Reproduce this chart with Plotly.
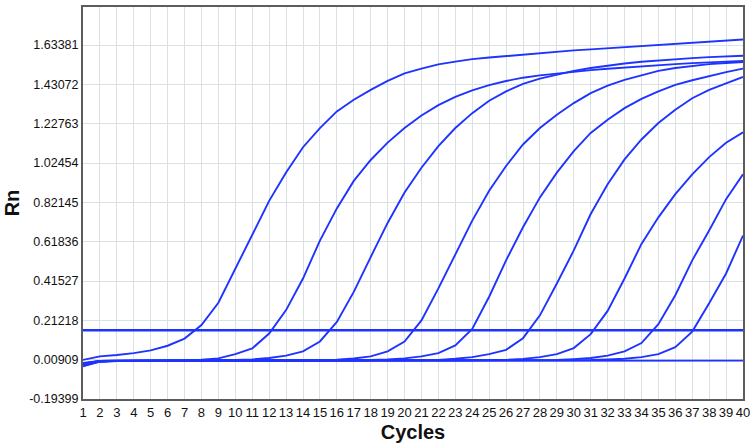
import plotly.graph_objects as go

cycles = list(range(1, 41))

curve_1 = [0.008, 0.026, 0.033, 0.043, 0.057, 0.081, 0.118, 0.188, 0.303, 0.479,
           0.659, 0.829, 0.975, 1.106, 1.205, 1.291, 1.351, 1.402, 1.448, 1.487,
           1.512, 1.534, 1.548, 1.561, 1.569, 1.577, 1.584, 1.590, 1.598, 1.606,
           1.611, 1.617, 1.622, 1.628, 1.634, 1.640, 1.645, 1.651, 1.656, 1.662]
curve_2 = [-0.012, 0.002, 0.004, 0.004, 0.005, 0.005, 0.006, 0.009, 0.016, 0.038,
           0.067, 0.144, 0.265, 0.428, 0.624, 0.790, 0.932, 1.040, 1.130, 1.205,
           1.270, 1.323, 1.366, 1.400, 1.427, 1.448, 1.465, 1.477, 1.487, 1.496,
           1.504, 1.511, 1.518, 1.524, 1.530, 1.535, 1.540, 1.544, 1.548, 1.552]
curve_3 = [-0.020, 0.001, 0.003, 0.004, 0.004, 0.004, 0.005, 0.005, 0.005, 0.007,
           0.010, 0.018, 0.030, 0.052, 0.103, 0.204, 0.359, 0.539, 0.715, 0.872,
           1.000, 1.112, 1.205, 1.282, 1.346, 1.394, 1.433, 1.460, 1.482, 1.500,
           1.515, 1.528, 1.538, 1.547, 1.554, 1.560, 1.566, 1.571, 1.575, 1.578]
curve_4 = [-0.008, 0.003, 0.004, 0.004, 0.004, 0.005, 0.005, 0.004, 0.005, 0.005,
           0.005, 0.005, 0.006, 0.006, 0.007, 0.009, 0.015, 0.026, 0.052, 0.103,
           0.212, 0.377, 0.556, 0.727, 0.881, 1.009, 1.120, 1.205, 1.274, 1.334,
           1.385, 1.424, 1.454, 1.479, 1.500, 1.515, 1.526, 1.535, 1.541, 1.546]
curve_5 = [-0.025, -0.001, 0.002, 0.003, 0.003, 0.004, 0.004, 0.004, 0.004, 0.005,
           0.005, 0.005, 0.005, 0.005, 0.005, 0.006, 0.006, 0.007, 0.010, 0.016,
           0.026, 0.043, 0.083, 0.168, 0.334, 0.522, 0.693, 0.847, 0.975, 1.086,
           1.180, 1.248, 1.308, 1.356, 1.394, 1.428, 1.452, 1.474, 1.494, 1.512]
curve_6 = [-0.015, 0.001, 0.003, 0.004, 0.004, 0.004, 0.004, 0.005, 0.005, 0.005,
           0.005, 0.005, 0.005, 0.005, 0.006, 0.006, 0.006, 0.006, 0.006, 0.007,
           0.007, 0.008, 0.014, 0.022, 0.038, 0.060, 0.120, 0.238, 0.402, 0.573,
           0.761, 0.915, 1.043, 1.146, 1.231, 1.299, 1.359, 1.402, 1.436, 1.469]
curve_7 = [-0.018, 0.000, 0.003, 0.003, 0.004, 0.004, 0.004, 0.004, 0.004, 0.005,
           0.005, 0.005, 0.005, 0.005, 0.005, 0.005, 0.005, 0.005, 0.006, 0.006,
           0.006, 0.006, 0.006, 0.006, 0.007, 0.008, 0.013, 0.022, 0.038, 0.069,
           0.141, 0.261, 0.428, 0.607, 0.744, 0.864, 0.966, 1.055, 1.129, 1.183]
curve_8 = [-0.022, -0.001, 0.002, 0.003, 0.003, 0.004, 0.004, 0.004, 0.004, 0.004,
           0.004, 0.005, 0.005, 0.005, 0.005, 0.005, 0.005, 0.005, 0.005, 0.005,
           0.005, 0.005, 0.006, 0.006, 0.006, 0.006, 0.006, 0.006, 0.007, 0.012,
           0.018, 0.030, 0.052, 0.095, 0.192, 0.342, 0.522, 0.676, 0.838, 0.966]
curve_9 = [-0.010, 0.002, 0.004, 0.004, 0.004, 0.005, 0.005, 0.005, 0.005, 0.005,
           0.005, 0.005, 0.005, 0.005, 0.005, 0.005, 0.005, 0.005, 0.005, 0.005,
           0.005, 0.006, 0.006, 0.006, 0.006, 0.006, 0.006, 0.006, 0.006, 0.006,
           0.007, 0.010, 0.014, 0.022, 0.038, 0.074, 0.154, 0.300, 0.454, 0.650]
ntc = [-0.014, 0.000, 0.003, 0.003, 0.004, 0.004, 0.004, 0.004, 0.004, 0.004,
       0.004, 0.004, 0.004, 0.004, 0.004, 0.004, 0.004, 0.004, 0.004, 0.004,
       0.004, 0.004, 0.004, 0.004, 0.004, 0.004, 0.004, 0.004, 0.004, 0.004,
       0.004, 0.004, 0.004, 0.004, 0.004, 0.004, 0.004, 0.004, 0.004, 0.004]
threshold = 0.161

y_tick_vals = [-0.19399, 0.00909, 0.21218, 0.41527, 0.61836, 0.82145,
               1.02454, 1.22763, 1.43072, 1.63381]
y_tick_text = ["-0.19399", "0.00909", "0.21218", "0.41527", "0.61836", "0.82145",
               "1.02454", "1.22763", "1.43072", "1.63381"]

BLUE = "#1f33ff"
FONT = "Liberation Sans, Arial, sans-serif"
NARROW = "Liberation Sans Narrow, Liberation Sans, Arial, sans-serif"

fig = go.Figure()
for series in [ntc, curve_9, curve_8, curve_7, curve_6, curve_5, curve_4, curve_3, curve_2, curve_1]:
    fig.add_trace(go.Scatter(x=cycles, y=series, mode="lines",
                             line=dict(color=BLUE, width=1.9), showlegend=False,
                             hoverinfo="skip"))
fig.add_trace(go.Scatter(x=[cycles[0], cycles[-1]], y=[threshold, threshold], mode="lines",
                         line=dict(color=BLUE, width=2.4), showlegend=False,
                         hoverinfo="skip"))

fig.update_layout(
    width=755, height=446,
    margin=dict(l=83, r=12, t=5, b=47),
    paper_bgcolor="white", plot_bgcolor="white",
    font=dict(family=FONT, size=12, color="#111111"),
    showlegend=False,
)
fig.update_xaxes(
    range=[1, 40], tickmode="array", tickvals=cycles, ticktext=[str(c) for c in cycles],
    showgrid=True, gridcolor="#d9e1e4", gridwidth=1,
    showline=True, linecolor="#5c5c5c", linewidth=2, mirror=True,
    ticks="", zeroline=False,
    tickfont=dict(family=NARROW, size=13, color="#111111"),
    title=dict(text="<b>Cycles</b>", font=dict(family=FONT, size=20, color="#111111"), standoff=6),
)
fig.update_yaxes(
    range=[-0.19399, 1.83], tickmode="array", tickvals=y_tick_vals, ticktext=y_tick_text,
    showgrid=True, gridcolor="#d9e1e4", gridwidth=1,
    showline=True, linecolor="#5c5c5c", linewidth=2, mirror=True,
    ticks="", zeroline=False,
    tickfont=dict(family=FONT, size=12.5, color="#111111"),
    title=dict(text="<b>Rn</b>", font=dict(family=FONT, size=20, color="#111111"), standoff=4),
)

fig.write_html("out.html", config={"displayModeBar": False},
               post_script="document.body.style.margin='0';")
